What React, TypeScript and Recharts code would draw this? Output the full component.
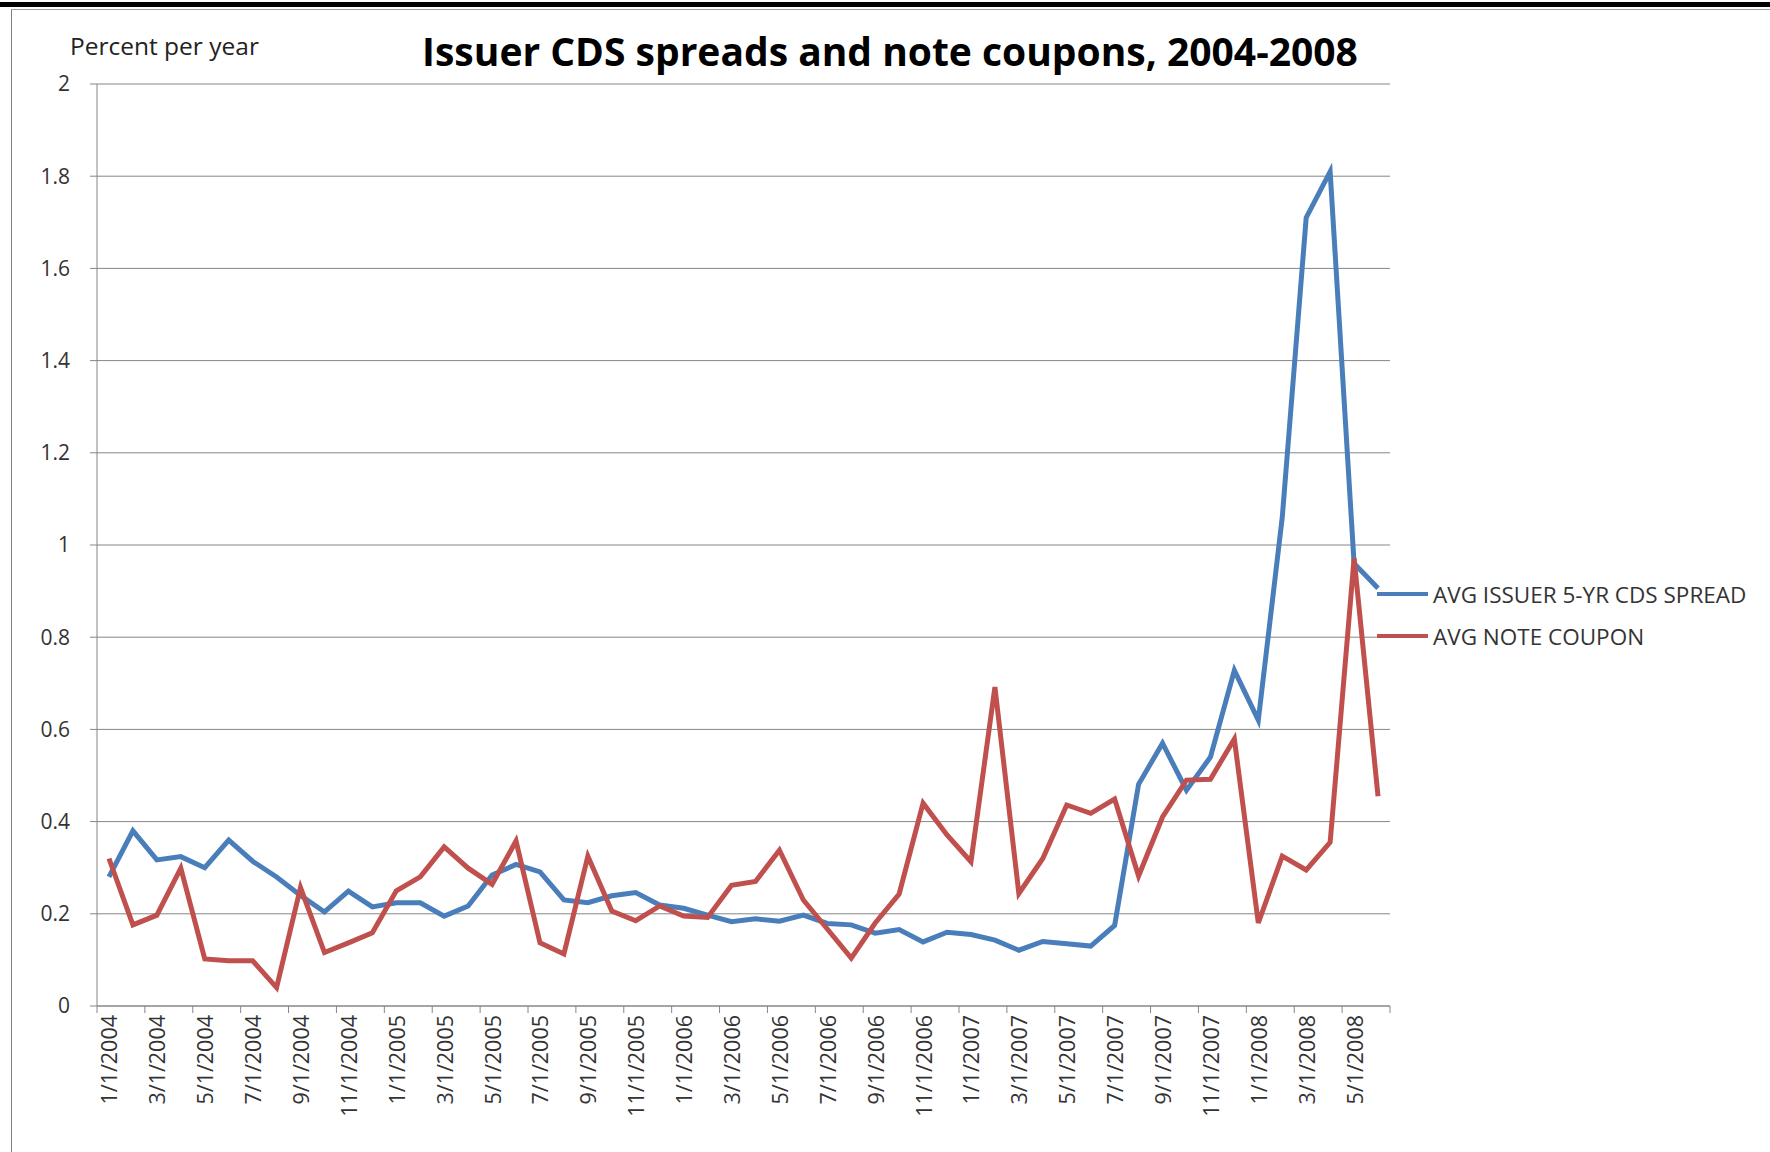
import React from 'react';
import { LineChart, Line, XAxis, YAxis, CartesianGrid } from 'recharts';

const months = [
  '1/1/2004', '2/1/2004', '3/1/2004', '4/1/2004', '5/1/2004', '6/1/2004',
  '7/1/2004', '8/1/2004', '9/1/2004', '10/1/2004', '11/1/2004', '12/1/2004',
  '1/1/2005', '2/1/2005', '3/1/2005', '4/1/2005', '5/1/2005', '6/1/2005',
  '7/1/2005', '8/1/2005', '9/1/2005', '10/1/2005', '11/1/2005', '12/1/2005',
  '1/1/2006', '2/1/2006', '3/1/2006', '4/1/2006', '5/1/2006', '6/1/2006',
  '7/1/2006', '8/1/2006', '9/1/2006', '10/1/2006', '11/1/2006', '12/1/2006',
  '1/1/2007', '2/1/2007', '3/1/2007', '4/1/2007', '5/1/2007', '6/1/2007',
  '7/1/2007', '8/1/2007', '9/1/2007', '10/1/2007', '11/1/2007', '12/1/2007',
  '1/1/2008', '2/1/2008', '3/1/2008', '4/1/2008', '5/1/2008', '6/1/2008',
];

const cdsSpread = [
  0.28, 0.38, 0.317, 0.324, 0.3, 0.36, 0.314, 0.28, 0.24, 0.204, 0.249, 0.215,
  0.224, 0.224, 0.195, 0.217, 0.284, 0.307, 0.291, 0.23, 0.224, 0.239, 0.246, 0.219,
  0.212, 0.197, 0.183, 0.189, 0.184, 0.197, 0.179, 0.176, 0.158, 0.166, 0.139, 0.16,
  0.155, 0.143, 0.121, 0.14, 0.135, 0.13, 0.175, 0.481, 0.57, 0.468, 0.54, 0.728,
  0.62, 1.06, 1.71, 1.81, 0.96, 0.906,
];

const noteCoupon = [
  0.32, 0.176, 0.197, 0.299, 0.102, 0.098, 0.098, 0.04, 0.257, 0.116, 0.137, 0.159,
  0.25, 0.28, 0.345, 0.299, 0.264, 0.358, 0.137, 0.113, 0.325, 0.206, 0.185, 0.217,
  0.195, 0.192, 0.262, 0.27, 0.338, 0.23, 0.167, 0.104, 0.18, 0.243, 0.44, 0.371,
  0.313, 0.692, 0.244, 0.32, 0.436, 0.418, 0.449, 0.282, 0.41, 0.49, 0.492, 0.579,
  0.18, 0.325, 0.295, 0.355, 0.971, 0.455,
];

const yTicks = [0, 0.2, 0.4, 0.6, 0.8, 1, 1.2, 1.4, 1.6, 1.8, 2];

const data = months.map((m, i) => ({
  month: m,
  cds: cdsSpread[i],
  coupon: noteCoupon[i],
}));

const W = 1770;
const H = 1152;
const M = { top: 84, right: 380, bottom: 0, left: 0 };
const Y_AXIS_W = 97;
const X_AXIS_H = 146;
const BAND = (W - M.right - Y_AXIS_W) / months.length;

const FONT = '"Open Sans", sans-serif';
const AXIS = '#868686';
const BLUE = '#4A7EBB';
const RED = '#C0504D';

const MonthTick = (props: any) => {
  const { x, y, payload } = props;
  const idx = months.indexOf(payload.value);
  const left = x - BAND / 2;
  return (
    <g>
      <line x1={left} y1={y} x2={left} y2={y + 7} stroke={AXIS} />
      {idx === months.length - 2 && (
        <line x1={left + 2 * BAND} y1={y} x2={left + 2 * BAND} y2={y + 7} stroke={AXIS} />
      )}
      <text
        x={x}
        y={y + 9}
        transform={`rotate(-90, ${x}, ${y + 9})`}
        textAnchor="end"
        dominantBaseline="central"
        fill="#333"
        fontSize={21.5}
        fontFamily={FONT}
      >
        {payload.value}
      </text>
    </g>
  );
};

const legendItems = [
  { label: 'AVG ISSUER 5-YR CDS SPREAD', color: BLUE, y: 594 },
  { label: 'AVG NOTE COUPON', color: RED, y: 636 },
];

export default function App() {
  return (
    <div style={{ position: 'absolute', left: 0, top: 0, width: W, height: H, background: '#fff', overflow: 'hidden' }}>
      <div style={{ position: 'absolute', left: 0, top: 2, width: W, height: 5, background: '#000' }} />
      <div style={{ position: 'absolute', left: 11, top: 9, width: W, height: H, borderLeft: '1.5px solid #808080', borderTop: '1px solid #a0a0a0' }} />

      <LineChart width={W} height={H} data={data} margin={M} style={{ position: 'absolute', left: 0, top: 0 }}>
        <CartesianGrid vertical={false} stroke={AXIS} strokeWidth={1} />
        <XAxis
          dataKey="month"
          interval={1}
          height={X_AXIS_H}
          padding={{ left: BAND / 2, right: BAND / 2 }}
          stroke={AXIS}
          tickLine={false}
          tickSize={0}
          tickMargin={0}
          tick={MonthTick}
        />
        <YAxis
          domain={[0, 2]}
          ticks={yTicks}
          width={Y_AXIS_W}
          stroke={AXIS}
          tickSize={7}
          tickMargin={20}
          tick={{ fill: '#333', fontSize: 21, fontFamily: FONT }}
          tickFormatter={(v: number) => String(v)}
        />
        <Line type="linear" dataKey="cds" stroke={BLUE} strokeWidth={5} dot={false} isAnimationActive={false} />
        <Line type="linear" dataKey="coupon" stroke={RED} strokeWidth={5} dot={false} isAnimationActive={false} />
      </LineChart>

      <div style={{ position: 'absolute', left: 290, top: 25, width: 1200, textAlign: 'center', fontFamily: FONT, fontWeight: 700, fontSize: 39, lineHeight: '52px', color: '#000' }}>
        Issuer CDS spreads and note coupons, 2004-2008
      </div>
      <div style={{ position: 'absolute', left: 70, top: 31, fontFamily: FONT, fontSize: 24.5, lineHeight: '30px', color: '#222' }}>
        Percent per year
      </div>

      {legendItems.map((it) => (
        <div key={it.label} style={{ position: 'absolute', left: 1377, top: it.y - 15, height: 30, display: 'flex', alignItems: 'center' }}>
          <div style={{ width: 51, height: 4.5, background: it.color }} />
          <span style={{ marginLeft: 5, fontFamily: FONT, fontSize: 22.5, color: '#333', whiteSpace: 'nowrap' }}>{it.label}</span>
        </div>
      ))}
    </div>
  );
}
